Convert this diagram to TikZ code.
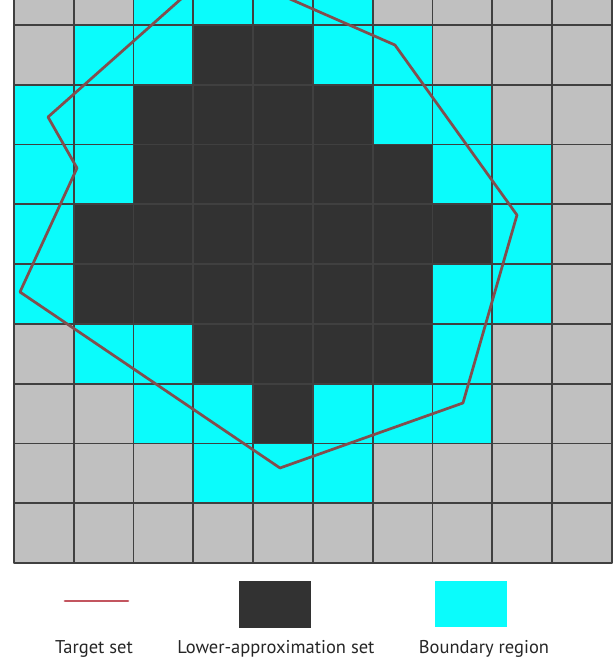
\documentclass[tikz,border=0pt]{standalone}
\usepackage{fontspec}
\setmainfont{PT Sans}
\definecolor{cellG}{RGB}{192,192,192}
\definecolor{cellC}{RGB}{10,252,252}
\definecolor{cellD}{RGB}{50,50,50}
\definecolor{targetbrown}{RGB}{130,78,78}
\definecolor{targetred}{RGB}{195,85,95}
\begin{document}
\begin{tikzpicture}[line join=round, line cap=round,
		font=\fontsize{8.8}{10}\selectfont,
		gridline/.style={black!75, line width=0.85pt},
		targetline/.style={line width=1.3pt},
		legendtext/.style={anchor=base, text=black!85, inner sep=0pt}]
	\def \xmin{-0.234}
	\def \xmax{10.033}
	\def \ymin{-1.672}
	\def \ymax{9.415}
	\useasboundingbox (\xmin,\ymin) rectangle (\xmax,\ymax);
	\begin{scope}
		\clip (\xmin,\ymin) rectangle (\xmax,\ymax);
		% cells, top row first (G gray, C boundary, D lower approximation)
		\foreach \row [count=\r] in {{G,G,C,C,C,C,G,G,G,G},
				{G,C,C,D,D,C,C,G,G,G},
				{C,C,D,D,D,D,C,C,G,G},
				{C,C,D,D,D,D,D,C,C,G},
				{C,D,D,D,D,D,D,D,C,G},
				{C,D,D,D,D,D,D,C,C,G},
				{G,C,C,D,D,D,D,C,G,G},
				{G,G,C,C,D,C,C,C,G,G},
				{G,G,G,C,C,C,G,G,G,G},
				{G,G,G,G,G,G,G,G,G,G}}
			\foreach \cl [count=\k] in \row
				\fill[fill=cell\cl] (\k-1,10-\r) rectangle (\k,11-\r);
		\draw[gridline] (0,0) grid (10,10);
		% target set
		\draw[targetline, targetbrown] (3.395,9.967)--(6.371,8.662)--(8.411,5.819)
			--(7.508,2.676)--(4.448,1.589)--(0.100,4.532)--(1.054,6.605)
			--(0.569,7.458)--cycle;
	\end{scope}
	% legend
	\draw[targetline, targetred] (0.853,-0.635)--(1.906,-0.635);
	\fill[cellD] (3.763,-0.301) rectangle (4.967,-1.087);
	\fill[cellC] (7.040,-0.301) rectangle (8.244,-1.075);
	\node[legendtext] (targettxt) at (1.338,-1.505) {Target set};
	\node[legendtext] (lowertxt) at (4.380,-1.505) {Lower-approximation set};
	\node[legendtext] (boundtxt) at (7.860,-1.505) {Boundary region};
\end{tikzpicture}
\end{document}
